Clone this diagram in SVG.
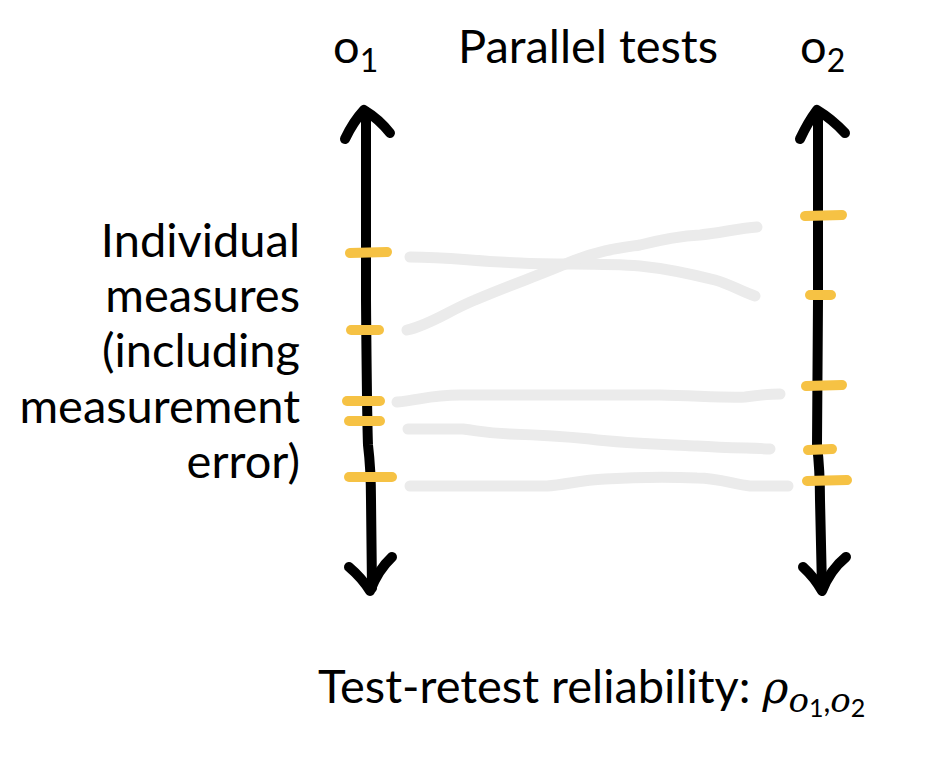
<svg xmlns="http://www.w3.org/2000/svg" width="930" height="763" viewBox="0 0 930 763">
<style>
.t{font-family:Lato,"Open Sans",sans-serif;font-size:47px;fill:#000}
.m{font-family:"DejaVu Serif","Liberation Serif",serif;font-style:italic;fill:#000}
.ax{fill:none;stroke:#000;stroke-width:10;stroke-linecap:round;stroke-linejoin:round}
.tick{stroke:#F6C244;stroke-width:10;stroke-linecap:round;fill:none}
.link{fill:none;stroke:#EBEBEB;stroke-width:11;stroke-linecap:round;stroke-linejoin:round}
</style>
<rect width="930" height="763" fill="#fff"/>
<g id="title">
<text class="t" x="588" y="63" text-anchor="middle">Parallel tests</text>
</g>
<g id="label-o1">
<text class="t" x="333" y="63">o<tspan font-size="32" dy="9">1</tspan></text>
</g>
<g id="label-o2">
<text class="t" x="800" y="63">o<tspan font-size="32" dy="9">2</tspan></text>
</g>
<g id="left-label">
<text class="t" text-anchor="end" x="300" y="257">Individual</text>
<text class="t" text-anchor="end" x="300" y="312">measures</text>
<text class="t" text-anchor="end" x="300" y="367">(including</text>
<text class="t" text-anchor="end" x="300" y="423">measurement</text>
<text class="t" text-anchor="end" x="300" y="478">error)</text>
</g>
<g id="reliability">
<text class="t" x="318" y="703">Test-retest reliability: <tspan class="m" font-size="44">ρ</tspan><tspan class="m" font-size="34" dy="9">o</tspan><tspan font-size="25" dy="5">1</tspan><tspan font-size="30" dy="-5">,</tspan><tspan class="m" font-size="34">o</tspan><tspan font-size="25" dy="5">2</tspan></text>
</g>
<g id="axis-o1">
<path class="ax" d="M366,112 L366,300 Q367,420 368,445 Q371,470 371,500 L372,588"/>
<path class="ax" d="M345,139 Q353,122 364,110 Q379,119 390,133"/>
<path class="ax" d="M349,567 Q362,578 370,591 Q378,570 392,557"/>
</g>
<g id="axis-o2">
<path class="ax" d="M818,112 L818,300 L817,445 Q820,470 820,500 L822,588"/>
<path class="ax" d="M800,139 Q808,122 817,110 Q832,119 845,133"/>
<path class="ax" d="M803,567 Q815,578 822,591 Q830,570 846,557"/>
</g>
<g id="ticks-o1">
<path class="tick" d="M350,253 L387,252"/>
<path class="tick" d="M351,330 L379,330"/>
<path class="tick" d="M347,401 L380,401"/>
<path class="tick" d="M349,421 L380,421"/>
<path class="tick" d="M349,477 L392,477"/>
</g>
<g id="ticks-o2">
<path class="tick" d="M805,216 L842,215"/>
<path class="tick" d="M810,295 L831,295"/>
<path class="tick" d="M806,386 L842,385"/>
<path class="tick" d="M808,450 L832,449"/>
<path class="tick" d="M807,481 L847,480"/>
</g>
<g id="connectors">
<path class="link" d="M410,257 C450,257 470,261 520,263 C560,265 600,263 640,266 C670,269 695,275 715,280 C730,284 742,292 755,296"/>
<path class="link" d="M407,330 C430,325 450,310 475,300 C510,285 540,275 570,262 C600,250 620,248 640,245 C660,240 680,236 700,235 C720,233 740,228 757,227"/>
<path class="link" d="M397,402 C420,400 430,395 460,395 L660,395 C700,396 730,398 745,397 C760,395 770,394 780,394"/>
<path class="link" d="M408,429 L463,429 C480,431 485,433 510,434 C540,435 560,436 590,439 C620,443 650,444 697,446 C730,448 750,448 770,449"/>
<path class="link" d="M410,486 L547,486 C565,485 580,480 605,479 C640,477 670,477 697,478 C720,478 735,485 750,486 L788,486"/>
</g>
</svg>
